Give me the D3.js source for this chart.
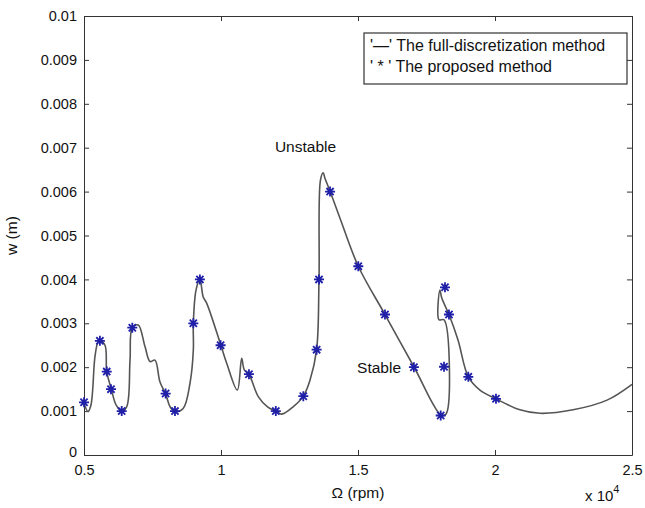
<!DOCTYPE html>
<html>
<head>
<meta charset="utf-8">
<script src="https://cdn.jsdelivr.net/npm/d3@7"></script>
<style>
  body { margin: 0; background: #fff; }
  text { font-family: "Liberation Sans", Arial, sans-serif; fill: #111; }
</style>
</head>
<body>
<div id="chart"></div>
<script>
// full-discretization curve, x in rpm, y in m
var curveX = [5000, 5146, 5255, 5400, 5510, 5580, 5766, 5830, 5985, 6170, 6376, 6560, 6680, 6763, 6980,
  7226, 7410, 7590, 7770, 7980, 8140, 8320, 8620, 8870, 8990, 8990, 9090, 9230, 9350, 9476,
  9985, 10208, 10595, 10755, 10850, 11020, 11360, 11710, 12007, 12215, 12640, 13004, 13250, 13490, 13577,
  13630, 13730, 13790, 13980, 14340, 15010, 15985, 17040, 18030, 18210, 18140, 17956, 17990, 18055, 18320,
  18650, 19026, 19450, 20036, 20910, 21640, 22850, 24090, 25000];
var curveY = [0.00118, 0.00099, 0.00114, 0.00224, 0.00257, 0.0026, 0.0025, 0.0019, 0.00153, 0.00114, 0.001, 0.0011, 0.00216, 0.0029, 0.00296,
  0.00247, 0.00213, 0.00216, 0.00167, 0.00139, 0.0011, 0.00099, 0.00106, 0.00164, 0.00239, 0.003, 0.00376, 0.004, 0.0036, 0.00346,
  0.00252, 0.00209, 0.00148, 0.0022, 0.00194, 0.00184, 0.00133, 0.00109, 0.001, 0.00093, 0.0011, 0.00134, 0.00171, 0.0024, 0.004,
  0.00626, 0.00643, 0.00631, 0.00601, 0.0054, 0.0043, 0.0032, 0.00201, 0.00091, 0.00093, 0.00308, 0.00308, 0.00376, 0.00358, 0.0032,
  0.00262, 0.00178, 0.00148, 0.00128, 0.00103, 0.00095, 0.00103, 0.00125, 0.00161];

// proposed method points
var starX = [5000, 5580, 5830, 5985, 6376, 6763, 7980, 8320, 8990, 9230, 9985, 11020, 12000, 13004, 13490,
  13577, 13980, 15010, 15985, 17040, 18018, 18140, 18175, 18320, 19026, 20036];
var starY = [0.0012, 0.0026, 0.0019, 0.0015, 0.001, 0.0029, 0.0014, 0.001, 0.003, 0.004, 0.0025, 0.00184, 0.001, 0.00134, 0.0024,
  0.004, 0.006, 0.0043, 0.0032, 0.002, 0.0009, 0.00201, 0.00382, 0.0032, 0.00178, 0.00128];

var xTicks = [5000, 10000, 15000, 20000, 25000];
var yTicks = [0, 0.001, 0.002, 0.003, 0.004, 0.005, 0.006, 0.007, 0.008, 0.009, 0.01];

var legendLabels = ["'\u2014' The full-discretization method", "' * ' The proposed method"];

var width = 645, height = 508;
var margin = { top: 16, right: 13, bottom: 53, left: 84 };

var svg = d3.select("#chart").append("svg")
  .attr("width", width)
  .attr("height", height);

var x = d3.scaleLinear().domain([5000, 25000]).range([margin.left, width - margin.right]);
var y = d3.scaleLinear().domain([0, 0.01]).range([height - margin.bottom, margin.top]);

var axisColor = "#333";

// axes, ticks pointing inward like matlab
var xAxis = svg.append("g")
  .attr("transform", "translate(0," + (height - margin.bottom) + ")")
  .call(d3.axisBottom(x).tickValues(xTicks).tickSizeInner(-5).tickSizeOuter(0).tickPadding(10)
    .tickFormat(function (d) { return d3.format("~g")(d / 10000); }));
var xAxisTop = svg.append("g")
  .attr("transform", "translate(0," + margin.top + ")")
  .call(d3.axisTop(x).tickValues(xTicks).tickSizeInner(-5).tickSizeOuter(0).tickFormat(""));
var yAxis = svg.append("g")
  .attr("transform", "translate(" + margin.left + ",0)")
  .call(d3.axisLeft(y).tickValues(yTicks).tickSizeInner(-5).tickSizeOuter(0).tickPadding(7)
    .tickFormat(function (d) { return d3.format("~g")(d); }));
var yAxisRight = svg.append("g")
  .attr("transform", "translate(" + (width - margin.right) + ",0)")
  .call(d3.axisRight(y).tickValues(yTicks).tickSizeInner(-5).tickSizeOuter(0).tickFormat(""));

[xAxis, xAxisTop, yAxis, yAxisRight].forEach(function (g) {
  g.select(".domain").attr("stroke", axisColor);
  g.selectAll(".tick line").attr("stroke", axisColor);
  g.selectAll(".tick text").style("font-size", "14.5px").attr("fill", "#111");
});

// first y label "0" sits low, near the x label "0.5"
yAxis.select(".tick text").attr("dy", "0.1em");

// curve
var line = d3.line()
  .x(function (d) { return x(d[0]); })
  .y(function (d) { return y(d[1]); })
  .curve(d3.curveCatmullRom.alpha(0.5));

svg.append("path")
  .datum(d3.zip(curveX, curveY))
  .attr("d", line)
  .attr("fill", "none")
  .attr("stroke", "#555")
  .attr("stroke-width", 1.6)
  .attr("stroke-linejoin", "round");

// star markers
var s = 5, s2 = 3.6;
svg.selectAll(".star")
  .data(d3.zip(starX, starY))
  .enter()
  .append("path")
  .attr("class", "star")
  .attr("d", function (d) {
    var cx = x(d[0]), cy = y(d[1]);
    return "M" + (cx - s) + "," + cy + "L" + (cx + s) + "," + cy +
      "M" + cx + "," + (cy - s) + "L" + cx + "," + (cy + s) +
      "M" + (cx - s2) + "," + (cy - s2) + "L" + (cx + s2) + "," + (cy + s2) +
      "M" + (cx - s2) + "," + (cy + s2) + "L" + (cx + s2) + "," + (cy - s2);
  })
  .attr("stroke", "#1f1fa8")
  .attr("stroke-width", 1.8)
  .attr("fill", "none");

// annotations
svg.append("text")
  .attr("x", x(13084)).attr("y", y(0.0069))
  .attr("text-anchor", "middle")
  .style("font-size", "15.5px")
  .text("Unstable");
svg.append("text")
  .attr("x", x(15770)).attr("y", y(0.00187))
  .attr("text-anchor", "middle")
  .style("font-size", "15.5px")
  .text("Stable");

// axis titles
svg.append("text")
  .attr("x", (margin.left + width - margin.right) / 2)
  .attr("y", 498)
  .attr("text-anchor", "middle")
  .style("font-size", "15.5px")
  .text("\u03a9 (rpm)");

svg.append("text")
  .attr("transform", "translate(17," + y(0.005) + ") rotate(-90)")
  .attr("text-anchor", "middle")
  .style("font-size", "15.5px")
  .text("w (m)");

var expo = svg.append("text")
  .attr("x", 585).attr("y", 501)
  .style("font-size", "15px");
expo.append("tspan").text("x 10");
expo.append("tspan").attr("dy", -8).style("font-size", "11px").text("4");

// legend
var legend = svg.append("g").attr("transform", "translate(364,33)");
legend.append("rect")
  .attr("width", 263).attr("height", 51)
  .attr("fill", "#fff")
  .attr("stroke", axisColor)
  .attr("stroke-width", 1.2);
legend.selectAll(".leg")
  .data(legendLabels)
  .enter()
  .append("text")
  .attr("class", "leg")
  .attr("x", 6)
  .attr("y", function (d, i) { return 18 + i * 21; })
  .style("font-size", "16px")
  .text(function (d) { return d; });
</script>
</body>
</html>
